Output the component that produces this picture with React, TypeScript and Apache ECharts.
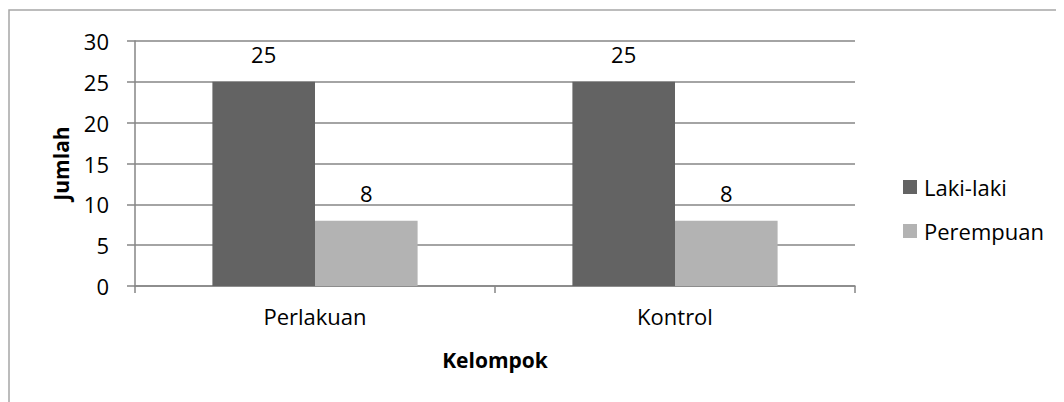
import React, { useEffect, useRef } from "react";
import * as echarts from "echarts";

const categories = ["Perlakuan", "Kontrol"];
const lakiLaki = [25, 25];
const perempuan = [8, 8];
const yTicks = { min: 0, max: 30, interval: 5 };

export default function App() {
  const ref = useRef<HTMLDivElement>(null);
  useEffect(() => {
    if (!ref.current) return;
    const chart = echarts.init(ref.current, undefined, { renderer: "svg" });
    const font = "Open Sans";
    const fs = 22;
    const gray = "#868686";
    chart.setOption({
      animation: false,
      textStyle: { fontFamily: font },
      graphic: [
        {
          type: "rect",
          shape: { x: 1, y: 2, width: 1200, height: 600 },
          style: { fill: "none", stroke: "#a6a6a6", lineWidth: 1.5 },
          silent: true,
        },
      ],
      grid: { left: 127, right: 209, top: 33, bottom: 116 },
      legend: {
        orient: "vertical",
        left: 890,
        top: 163,
        itemWidth: 14,
        itemHeight: 14,
        itemGap: 22,
        icon: "rect",
        textStyle: { fontFamily: font, fontSize: fs, color: "#000", padding: [0, 0, 0, 2] },
        data: ["Laki-laki", "Perempuan"],
      },
      xAxis: {
        type: "category",
        data: categories,
        name: "Kelompok",
        nameLocation: "middle",
        nameGap: 63,
        nameTextStyle: { fontFamily: font, fontSize: fs - 1, fontWeight: "bold", color: "#000" },
        axisLine: { lineStyle: { color: gray, width: 1.5 } },
        axisTick: { show: true, length: 7, lineStyle: { color: gray, width: 1.5 } },
        axisLabel: { fontFamily: font, fontSize: fs, color: "#000", margin: 19 },
      },
      yAxis: {
        type: "value",
        min: yTicks.min,
        max: yTicks.max,
        interval: yTicks.interval,
        name: "Jumlah",
        nameLocation: "middle",
        nameGap: 64,
        nameTextStyle: { fontFamily: font, fontSize: fs - 1, fontWeight: "bold", color: "#000" },
        axisLine: { show: true, lineStyle: { color: gray, width: 1.5 } },
        axisTick: { show: true, length: 8, lineStyle: { color: gray, width: 1.5 } },
        axisLabel: { fontFamily: font, fontSize: fs, color: "#000", margin: 26 },
        splitLine: { show: true, lineStyle: { color: gray, width: 1.5 } },
      },
      series: [
        {
          name: "Laki-laki",
          type: "bar",
          data: lakiLaki,
          barGap: "0%",
          barCategoryGap: "43%",
          itemStyle: { color: "#636363" },
          label: { show: true, position: "top", distance: 17, fontFamily: font, fontSize: fs, color: "#000" },
        },
        {
          name: "Perempuan",
          type: "bar",
          data: perempuan,
          barGap: "0%",
          barCategoryGap: "43%",
          itemStyle: { color: "#b3b3b3" },
          label: { show: true, position: "top", distance: 17, fontFamily: font, fontSize: fs, color: "#000" },
        },
      ],
    });
    return () => chart.dispose();
  }, []);
  return <div ref={ref} style={{ width: 1056, height: 394 }} />;
}
